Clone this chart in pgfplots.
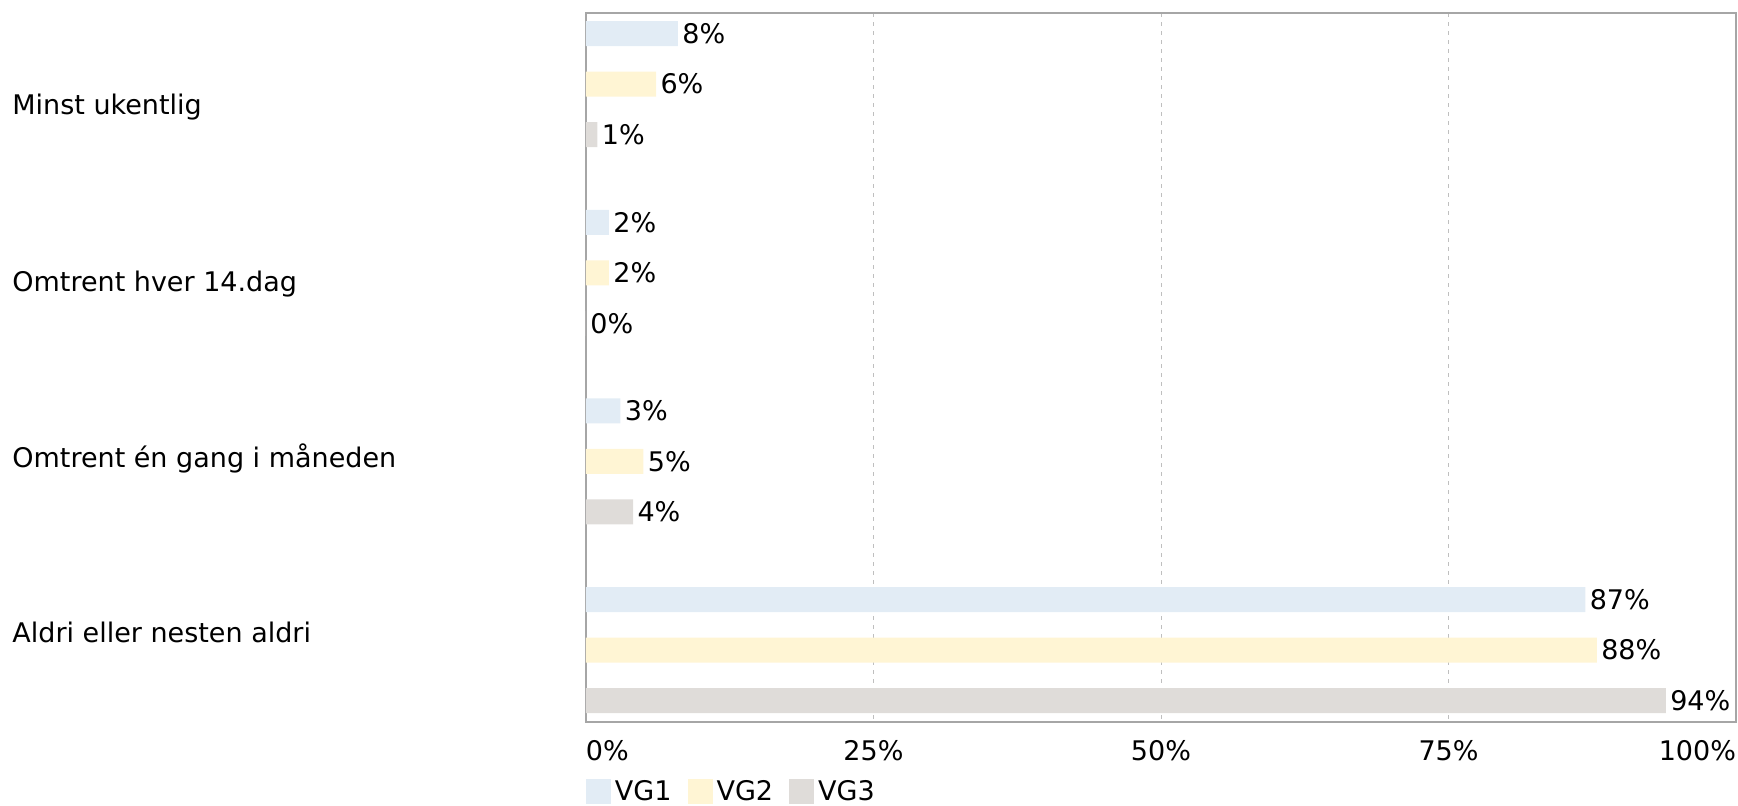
\documentclass[border=0pt]{standalone}
\usepackage{pgfplots}
\pgfplotsset{compat=1.18}
\usepackage{fontspec}
\setmainfont{DejaVu Sans}
\definecolor{cvgone}{HTML}{E2ECF5}
\definecolor{cvgtwo}{HTML}{FFF5D4}
\definecolor{cvgthree}{HTML}{DFDCD9}
\newcommand{\ff}{\fontsize{13.5pt}{16pt}\selectfont}
\begin{document}
\begin{tikzpicture}
\begin{axis}[
  name=ax,
  scale only axis,
  width=575pt, height=354.5pt,
  xmin=0, xmax=100,
  ymin=-0.377, ymax=3.381,
  y dir=reverse,
  xbar, bar shift=0pt, bar width=0.1325,
  clip=false,
  /pgf/number format/assume math mode=true,
  axis line style={draw=black!35, line width=0.75pt},
  major tick length=0pt,
  xtick={0,25,50,75,100},
  xticklabels={\makebox[0pt][l]{0\%},25\%,50\%,75\%,\makebox[0pt][r]{100\%}},
  xticklabel style={font=\ff, anchor=north, inner sep=0pt, yshift=-9pt},
  ytick={0.161,1.097,2.030,2.962},
  yticklabels={Minst ukentlig,Omtrent hver 14.dag,Omtrent én gang i måneden,Aldri eller nesten aldri},
  yticklabel style={font=\ff, anchor=base west, inner sep=0pt, xshift=-287pt},
  xmajorgrids,
  grid style={draw=black!25, line width=0.5pt, dash pattern=on 2pt off 2.5pt},
  point meta=x,
  nodes near coords={\pgfmathprintnumber[fixed,precision=0,assume math mode=true]{\pgfplotspointmeta}\%},
  nodes near coords style={font=\ff, anchor=west, inner sep=2pt, text=black},
  legend columns=3,
  legend image code/.code={\fill[#1] (0pt,-6.25pt) rectangle (12.5pt,6.25pt);},
  legend style={at={(axis description cs:0,-0.098)}, anchor=west, draw=none, fill=none,
    inner sep=0pt, outer sep=0pt, font=\ff,
    /tikz/every even column/.append style={column sep=6pt},
    nodes={inner sep=2pt}},
]
\addplot[draw=none, fill=cvgone] coordinates {(8,-0.2676) (2,0.7324) (3,1.7324) (86.9,2.7324)};
\addlegendentry{VG1}
\addplot[draw=none, fill=cvgtwo] coordinates {(6.1,0) (2,1) (5,2) (87.9,3)};
\addlegendentry{VG2}
\addplot[draw=none, fill=cvgthree] coordinates {(1,0.2676) (0,1.2676) (4.1,2.2676) (93.9,3.2676)};
\addlegendentry{VG3}
\end{axis}
\pgfresetboundingbox
\path[use as bounding box] ([xshift=-293pt,yshift=-41.5pt]ax.south west) rectangle ([xshift=1pt,yshift=6.5pt]ax.north east);
\end{tikzpicture}
\end{document}
